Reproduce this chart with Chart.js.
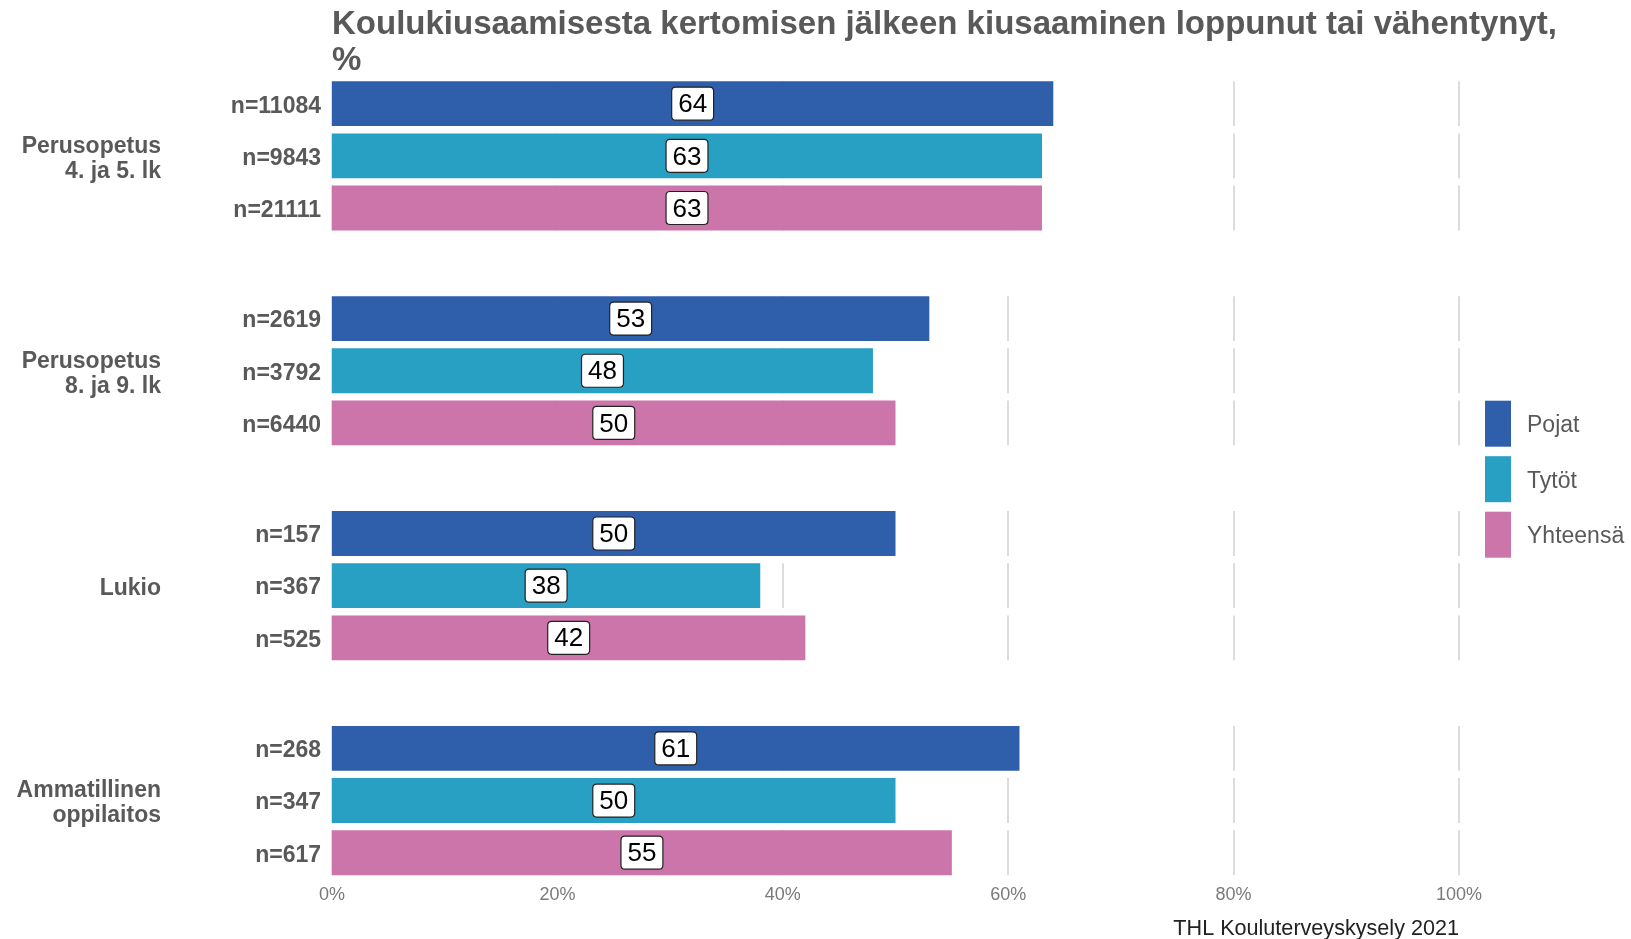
<!DOCTYPE html>
<html><head><meta charset="utf-8">
<script src="https://cdn.jsdelivr.net/npm/chart.js@4.4.1/dist/chart.umd.min.js"></script>
<style>html,body{margin:0;padding:0;background:#fff;} #wrap{width:1631px;height:939px;position:relative;}</style>
</head><body><div id="wrap"><canvas id="c" width="1631" height="939"></canvas></div>
<script>
// ---- data ----
const groupLabels = [['Perusopetus','4. ja 5. lk'],['Perusopetus','8. ja 9. lk'],['Lukio'],['Ammatillinen','oppilaitos']];
const seriesNames = ['Pojat','Tytöt','Yhteensä'];
const pojatValues = [64,53,50,61];
const tytotValues = [63,48,38,50];
const yhteensaValues = [63,50,42,55];
const pojatN = ['n=11084','n=2619','n=157','n=268'];
const tytotN = ['n=9843','n=3792','n=367','n=347'];
const yhteensaN = ['n=21111','n=6440','n=525','n=617'];
const xTicks = [0,20,40,60,80,100];
const titleLines = ['Koulukiusaamisesta kertomisen jälkeen kiusaaminen loppunut tai vähentynyt,','%'];
const caption = 'THL Kouluterveyskysely 2021';

// ---- styling / layout ----
const FONT = '"Liberation Sans", Arial, sans-serif';
const seriesColors = ['#2F5FAB','#28A0C3','#CB75AA'];
const textGray = '#595959';
const groupSpacing = 4.12;
const seriesValues = [pojatValues, tytotValues, yhteensaValues];
const seriesN = [pojatN, tytotN, yhteensaN];

const rowPos = [], rowLabels = [], groupPos = [];
groupLabels.forEach((g, gi) => {
  groupPos.push(gi * groupSpacing + 1);
  seriesNames.forEach((s, si) => { rowPos.push(gi * groupSpacing + si); rowLabels.push(seriesN[si][gi]); });
});
const yMin = -0.55, yMax = (groupLabels.length - 1) * groupSpacing + 2 + 0.55;

const datasets = seriesNames.map((name, si) => ({
  label: name,
  data: seriesValues[si].map((v, gi) => ({ x: v, y: gi * groupSpacing + si })),
  backgroundColor: seriesColors[si],
  borderWidth: 0,
  grouped: false,
  categoryPercentage: 1,
  barPercentage: 0.86
}));

const gridPlugin = {
  id: 'rowGrid',
  beforeDatasetsDraw(chart) {
    const ctx = chart.ctx, xs = chart.scales.x;
    ctx.save();
    ctx.strokeStyle = '#dcdcdc'; ctx.lineWidth = 2;
    chart.data.datasets.forEach((ds, di) => {
      chart.getDatasetMeta(di).data.forEach(bar => {
        const h = bar.height;
        xTicks.forEach(t => {
          const x = Math.round(xs.getPixelForValue(t));
          ctx.beginPath(); ctx.moveTo(x, bar.y - h / 2); ctx.lineTo(x, bar.y + h / 2); ctx.stroke();
        });
      });
    });
    ctx.restore();
  }
};

function roundRect(ctx, x, y, w, h, r) {
  ctx.beginPath();
  ctx.moveTo(x + r, y); ctx.lineTo(x + w - r, y); ctx.quadraticCurveTo(x + w, y, x + w, y + r);
  ctx.lineTo(x + w, y + h - r); ctx.quadraticCurveTo(x + w, y + h, x + w - r, y + h);
  ctx.lineTo(x + r, y + h); ctx.quadraticCurveTo(x, y + h, x, y + h - r);
  ctx.lineTo(x, y + r); ctx.quadraticCurveTo(x, y, x + r, y); ctx.closePath();
}

const labelPlugin = {
  id: 'valueLabels',
  afterDatasetsDraw(chart) {
    const ctx = chart.ctx, xs = chart.scales.x;
    ctx.save();
    ctx.font = '26px ' + FONT;
    ctx.textAlign = 'center'; ctx.textBaseline = 'middle';
    chart.data.datasets.forEach((ds, di) => {
      chart.getDatasetMeta(di).data.forEach((bar, i) => {
        const v = ds.data[i].x;
        const cx = xs.getPixelForValue(v / 2), cy = bar.y;
        const txt = String(v);
        const w = ctx.measureText(txt).width + 13, h = 33;
        roundRect(ctx, cx - w / 2, cy - h / 2, w, h, 4);
        ctx.fillStyle = '#ffffff'; ctx.fill();
        ctx.strokeStyle = '#222'; ctx.lineWidth = 1.2; ctx.stroke();
        ctx.fillStyle = '#000'; ctx.fillText(txt, cx, cy + 1.5);
      });
    });
    ctx.restore();
  }
};

const decorPlugin = {
  id: 'decor',
  afterDraw(chart) {
    const ctx = chart.ctx, ca = chart.chartArea;
    ctx.save();
    // title
    ctx.font = 'bold 33px ' + FONT; ctx.fillStyle = textGray;
    ctx.textAlign = 'left'; ctx.textBaseline = 'alphabetic';
    titleLines.forEach((t, i) => ctx.fillText(t, ca.left, 34 + i * 36));
    // caption
    ctx.font = '21.6px ' + FONT; ctx.fillStyle = '#222'; ctx.textAlign = 'right';
    ctx.fillText(caption, ca.right, 935);
    // legend
    const cy = (ca.top + ca.bottom) / 2 + 1, step = 55.5;
    chart.data.datasets.forEach((ds, i) => {
      const yc = cy + (i - 1) * step;
      ctx.fillStyle = ds.backgroundColor;
      ctx.fillRect(ca.right + 26, yc - 23, 26, 46);
      ctx.fillStyle = textGray; ctx.font = '23px ' + FONT;
      ctx.textAlign = 'left'; ctx.textBaseline = 'middle';
      ctx.fillText(ds.label, ca.right + 68, yc + 2);
    });
    ctx.restore();
  }
};

new Chart(document.getElementById('c'), {
  type: 'bar',
  data: { datasets },
  plugins: [gridPlugin, labelPlugin, decorPlugin],
  options: {
    indexAxis: 'y',
    responsive: false,
    animation: false,
    layout: { padding: { top: 75, bottom: 30, left: 0, right: 172 } },
    plugins: { legend: { display: false }, tooltip: { enabled: false }, title: { display: false } },
    scales: {
      x: {
        type: 'linear', min: 0, max: 100,
        afterBuildTicks: ax => { ax.ticks = xTicks.map(v => ({ value: v })); },
        ticks: { callback: v => v + '%', color: '#7a7a7a', font: { family: FONT, size: 18 }, padding: 3, maxRotation: 0 },
        grid: { display: false, drawTicks: false },
        border: { display: false }
      },
      y: {
        type: 'linear', reverse: true, offset: false, min: yMin, max: yMax, position: 'left', weight: 0,
        afterBuildTicks: ax => { ax.ticks = rowPos.map(v => ({ value: v })); },
        afterFit: ax => { ax.width = 171; },
        ticks: { autoSkip: false, padding: 11, labelOffset: 2.5, color: textGray, font: { family: FONT, size: 23, weight: 'bold' },
                 callback: (v, i) => rowLabels[i] },
        grid: { display: false, drawTicks: false, offset: false },
        border: { display: false }
      },
      yg: {
        type: 'linear', reverse: true, offset: false, min: yMin, max: yMax, position: 'left', weight: 1,
        afterBuildTicks: ax => { ax.ticks = groupPos.map(v => ({ value: v })); },
        afterFit: ax => { ax.width = 161; },
        ticks: { autoSkip: false, padding: 0, labelOffset: 3, color: textGray, font: { family: FONT, size: 23, weight: 'bold', lineHeight: 1.08 },
                 callback: (v, i) => groupLabels[i] },
        grid: { display: false, drawTicks: false, offset: false },
        border: { display: false }
      }
    }
  }
});
</script></body></html>
